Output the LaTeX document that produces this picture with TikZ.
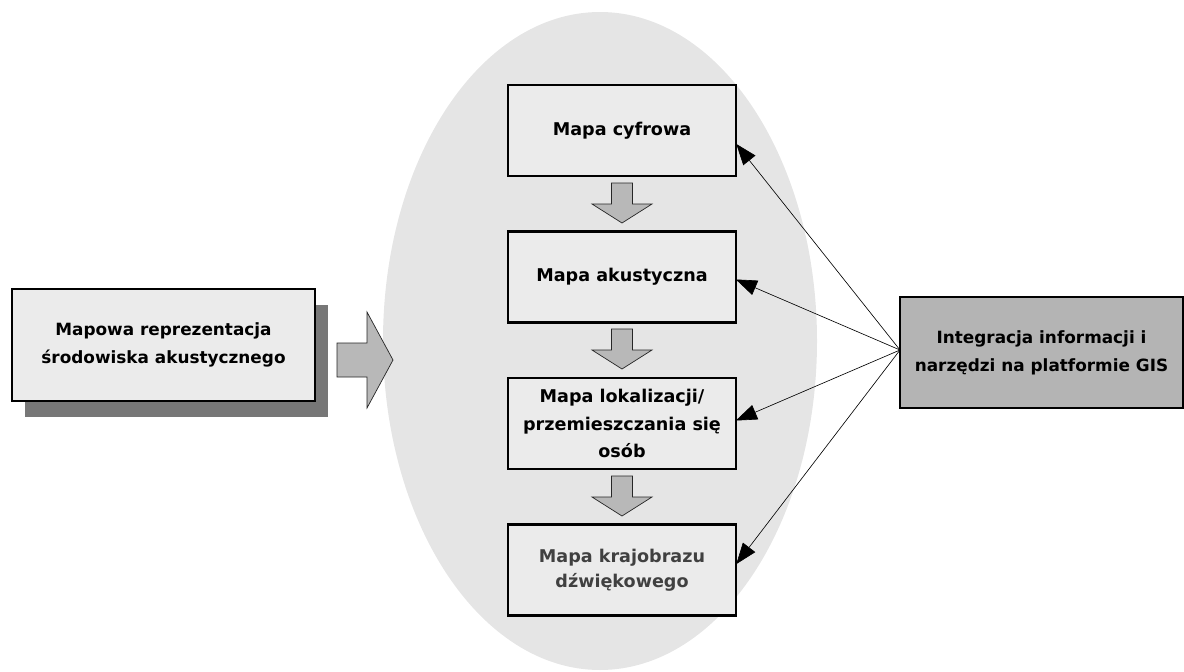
\documentclass[tikz,border=0pt]{standalone}
\usepackage{fontspec}
\setmainfont{DejaVu Sans}
\usetikzlibrary{arrows.meta,calc}
\definecolor{ellgray}{HTML}{E5E5E5}
\definecolor{boxgray}{HTML}{EBEBEB}
\definecolor{darkbox}{HTML}{B4B4B4}
\definecolor{arrgray}{HTML}{B8B8B8}
\definecolor{shadowgray}{HTML}{777777}
\definecolor{txtgray}{HTML}{404040}
\tikzset{
  stagebox/.style={draw=black, line width=1.6pt, fill=boxgray, minimum width=228*0.025cm, minimum height=91*0.025cm, align=center, font=\bfseries\fontsize{12.5}{19.5}\selectfont, inner sep=0pt},
  blockarrow/.style={draw=black!85, line width=0.5pt, fill=arrgray},
  link/.style={draw=black, line width=0.45pt, -{Triangle[length=15pt,width=11pt]}, shorten >=-1pt}
}
\begin{document}
\begin{tikzpicture}[x=0.025cm,y=-0.025cm]
\useasboundingbox (0,0) rectangle (1184,671);
% ellipse background
\fill[ellgray] (600,341) ellipse [x radius=217, y radius=329];
% left box with shadow
\fill[shadowgray] (25,305) rectangle (328,417);
\node[draw=black, line width=1pt, fill=boxgray, minimum width=303*0.025cm, minimum height=112*0.025cm, align=center, font=\bfseries\fontsize{12}{20}\selectfont, inner sep=0pt] (left) at (163.5,345) {Mapowa reprezentacja\\środowiska akustycznego};
% right block arrow
\draw[blockarrow] (337,343) -- (367,343) -- (367,312) -- (393,360) -- (367,408) -- (367,377) -- (337,377) -- cycle;
% stage boxes
\node[stagebox] (cyf) at (622,130.5) {Mapa cyfrowa};
\node[stagebox] (aku) at (622,277) {Mapa akustyczna};
\node[stagebox] (lok) at (622,423.5) {Mapa lokalizacji/\\przemieszczania się\\osób};
\node[stagebox, text=txtgray, font=\bfseries\fontsize{12.5}{18}\selectfont] (kra) at (622,570) {Mapa krajobrazu\\dźwiękowego};
% down block arrows
\foreach \y in {183,329,476}{
  \draw[blockarrow] (611.5,\y) -- (632.5,\y) -- (632.5,\y+21) -- (652,\y+21) -- (622,\y+40) -- (592,\y+21) -- (611.5,\y+21) -- cycle;
}
% GIS box
\node[draw=black, line width=1pt, fill=darkbox, minimum width=283*0.025cm, minimum height=111*0.025cm, align=center, font=\bfseries\fontsize{12}{20}\selectfont, inner sep=0pt] (gis) at (1041.5,352.5) {Integracja informacji i\\narzędzi na platformie GIS};
\coordinate (hub) at (900,350);
% connectors
\draw[link] (hub) -- ([yshift=-14.5*0.025cm]cyf.east);
\draw[link] (hub) -- ([yshift=-3*0.025cm]aku.east);
\draw[link] (hub) -- ([yshift=3.5*0.025cm]lok.east);
\draw[link] (hub) -- ([yshift=7*0.025cm]kra.east);
\end{tikzpicture}
\end{document}
